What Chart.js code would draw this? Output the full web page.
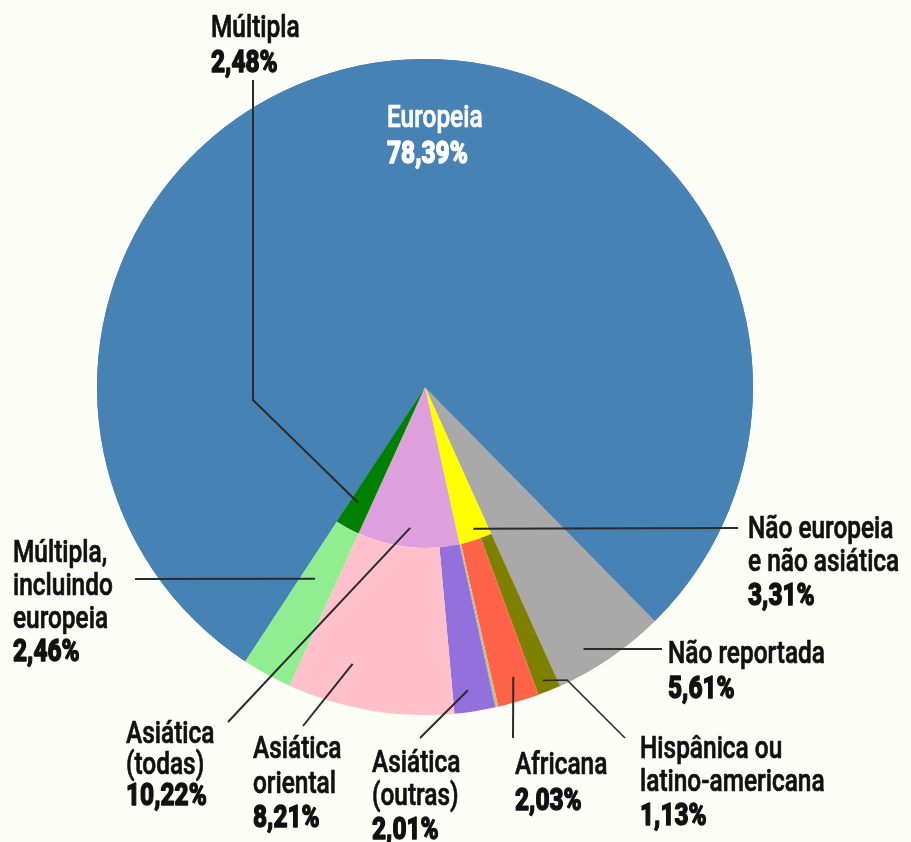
<!DOCTYPE html>
<html>
<head>
<meta charset="utf-8">
<script src="https://cdn.jsdelivr.net/npm/chart.js@4.4.1/dist/chart.umd.min.js"></script>
<style>
  html, body { margin: 0; padding: 0; background: #fdfdf8; }
  #wrap { width: 911px; height: 842px; position: relative; }
</style>
</head>
<body>
<div id="wrap"><canvas id="c" width="911" height="842"></canvas></div>
<script>
// ---- DATA ----
const outerLabels = ['Não reportada', 'Hispânica ou latino-americana', 'Africana', 'Outra (a)', 'Outra (b)',
                     'Asiática (outras)', 'Asiática oriental', 'Múltipla, incluindo europeia', 'Europeia'];
const outerValues = [5.61, 1.13, 2.03, 0.08, 0.07, 2.01, 8.21, 2.46, 78.39];
const outerColors = ['#a9a9a9', '#808000', '#ff6347', '#f4a460', '#7ccfa8', '#9370db', '#ffc0cb', '#90ee90', '#4682b4'];

const innerLabels = ['Não reportada', 'Não europeia e não asiática', 'Asiática (todas)', 'Múltipla', 'Europeia'];
const innerValues = [5.61, 3.31, 10.22, 2.48, 78.39];
const innerColors = ['#a9a9a9', '#ffff00', '#dda0dd', '#008000', '#4682b4'];

// display text lines for each label
const nameLines = {
  'Múltipla': ['Múltipla'],
  'Europeia': ['Europeia'],
  'Não europeia e não asiática': ['Não europeia', 'e não asiática'],
  'Não reportada': ['Não reportada'],
  'Hispânica ou latino-americana': ['Hispânica ou', 'latino-americana'],
  'Africana': ['Africana'],
  'Asiática (outras)': ['Asiática', '(outras)'],
  'Asiática oriental': ['Asiática', 'oriental'],
  'Asiática (todas)': ['Asiática', '(todas)'],
  'Múltipla, incluindo europeia': ['Múltipla,', 'incluindo', 'europeia']
};

// ---- LAYOUT (label placement, leader lines) ----
// ds: 0 = outer ring, 1 = inner ring; f/g = anchor position within the slice (angle / radial fraction)
const labelLayout = [
  { ds: 1, name: 'Múltipla', f: 0.63, g: 0.83, path: [[253, 400], [253, 80]], x: 211, y: 37, step: 35 },
  { ds: 1, name: 'Europeia', x: 387, y: 127, step: 36, color: '#ffffff' },
  { ds: 1, name: 'Não europeia e não asiática', f: 0.46, g: 0.93, path: [[738, 528]], x: 748, y: 538 },
  { ds: 0, name: 'Não reportada', f: 0.66, g: 0.87, path: [[662, 649]], x: 668, y: 663, pstep: 35 },
  { ds: 0, name: 'Hispânica ou latino-americana', f: 0.6, g: 0.93, path: [[567, 680], [625, 738]], x: 640, y: 758, lw: 1.6 },
  { ds: 0, name: 'Africana', f: 0.45, g: 0.85, path: [[513, 738]], x: 515, y: 774, pstep: 36 },
  { ds: 0, name: 'Asiática (outras)', f: 0.6, g: 0.87, path: [[420, 738]], x: 372, y: 772 },
  { ds: 0, name: 'Asiática oriental', f: 0.67, g: 0.75, path: [[303, 726]], x: 253, y: 758, step: 34.5 },
  { ds: 1, name: 'Asiática (todas)', f: 0.5, g: 0.88, path: [[228, 722]], x: 126, y: 743, step: 31 },
  { ds: 0, name: 'Múltipla, incluindo europeia', f: 0.61, g: 0.36, path: [[135, 579]], x: 13, y: 562, step: 33 }
];

const FONT = 'Roboto, "Liberation Sans", sans-serif';
const FS = 31;

function fmtPct(v) { return v.toFixed(2).replace('.', ',') + '%'; }

// categories present in both rings are painted once at full radius so the ring seam does not show
const seamPlugin = {
  id: 'seam',
  beforeDatasetsDraw(chart) {
    const meta = chart.getDatasetMeta(0);
    const ctx = chart.ctx;
    outerLabels.forEach((lab, idx) => {
      if (innerLabels.indexOf(lab) < 0) return;
      const p = meta.data[idx].getProps(['x', 'y', 'startAngle', 'endAngle', 'outerRadius'], true);
      ctx.save();
      ctx.fillStyle = outerColors[idx];
      ctx.beginPath();
      ctx.moveTo(p.x, p.y);
      ctx.arc(p.x, p.y, p.outerRadius, p.startAngle, p.endAngle);
      ctx.closePath();
      ctx.fill();
      ctx.restore();
    });
  }
};

const labelPlugin = {
  id: 'labels',
  afterDraw(chart) {
    const ctx = chart.ctx;
    ctx.save();
    ctx.font = `500 ${FS}px ${FONT}`;
    const SX = 157 / ctx.measureText('Não reportada').width;
    ctx.restore();

    const sets = [
      { labels: outerLabels, values: outerValues },
      { labels: innerLabels, values: innerValues }
    ];

    labelLayout.forEach(L => {
      const set = sets[L.ds];
      const idx = set.labels.indexOf(L.name);
      const arc = chart.getDatasetMeta(L.ds).data[idx];
      if (L.path) {
        const p = arc.getProps(['x', 'y', 'startAngle', 'endAngle', 'innerRadius', 'outerRadius'], true);
        const a = p.startAngle + L.f * (p.endAngle - p.startAngle);
        const r = p.innerRadius + L.g * (p.outerRadius - p.innerRadius);
        const ax = p.x + r * Math.cos(a), ay = p.y + r * Math.sin(a);
        ctx.save();
        ctx.strokeStyle = '#2b2b2b';
        ctx.lineWidth = L.lw || 2;
        ctx.lineJoin = 'miter';
        ctx.beginPath();
        ctx.moveTo(ax, ay);
        L.path.forEach(pt => ctx.lineTo(pt[0], pt[1]));
        ctx.stroke();
        ctx.restore();
      }
      const lines = nameLines[L.name];
      const step = L.step || 32.5;
      const pstep = L.pstep || L.step || 34.5;
      const color = L.color || '#111111';
      let y = L.y;
      lines.forEach((t, k) => {
        if (k > 0) y += step;
        drawText(ctx, t, L.x, y, 500, color, SX, 0.7);
      });
      y += pstep;
      drawText(ctx, fmtPct(set.values[idx]), L.x, y, 800, color, SX, 1.4);
    });
  }
};

function drawText(ctx, text, x, y, weight, color, sx, sw) {
  ctx.save();
  ctx.font = `${weight} ${FS}px ${FONT}`;
  ctx.fillStyle = color;
  ctx.strokeStyle = color;
  ctx.lineJoin = 'round';
  ctx.textBaseline = 'alphabetic';
  ctx.translate(x, y);
  ctx.scale(sx, 1);
  ctx.fillText(text, 0, 0);
  if (sw) { ctx.lineWidth = sw; ctx.strokeText(text, 0, 0); }
  ctx.restore();
}

new Chart(document.getElementById('c'), {
  type: 'pie',
  data: {
    labels: outerLabels,
    datasets: [
      { data: outerValues, backgroundColor: outerColors, borderWidth: 0, hoverBorderWidth: 0, hoverOffset: 0, weight: 167 },
      { data: innerValues, backgroundColor: innerColors, borderWidth: 0, hoverBorderWidth: 0, hoverOffset: 0, weight: 161 }
    ]
  },
  options: {
    responsive: false,
    animation: false,
    events: [],
    rotation: 135.5,
    layout: { padding: { left: 97, top: 59, right: 158, bottom: 127 } },
    plugins: { legend: { display: false }, tooltip: { enabled: false } }
  },
  plugins: [seamPlugin, labelPlugin]
});
</script>
</body>
</html>
